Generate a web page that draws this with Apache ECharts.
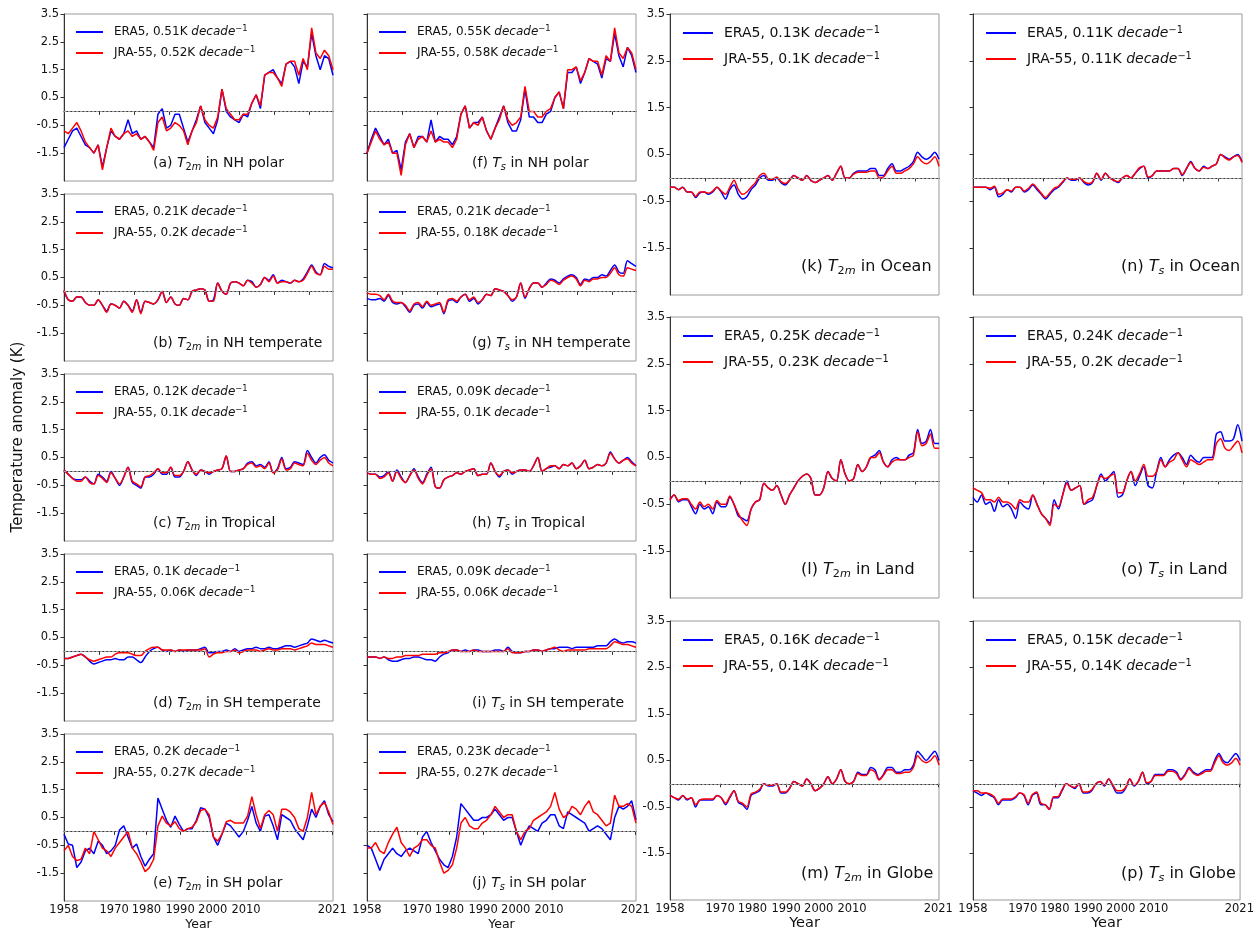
<!DOCTYPE html>
<html><head><meta charset="utf-8">
<script src="https://cdn.jsdelivr.net/npm/echarts@6/dist/echarts.min.js"></script>
<style>html,body{margin:0;padding:0;background:#fff}#c{width:1257px;height:932px}</style>
</head><body><div id="c"></div>
<script>
// ---------------- DATA ----------------
const years = [1958,1959,1960,1961,1962,1963,1964,1965,1966,1967,
1968,1969,1970,1971,1972,1973,1974,1975,1976,1977,
1978,1979,1980,1981,1982,1983,1984,1985,1986,1987,
1988,1989,1990,1991,1992,1993,1994,1995,1996,1997,
1998,1999,2000,2001,2002,2003,2004,2005,2006,2007,
2008,2009,2010,2011,2012,2013,2014,2015,2016,2017,
2018,2019,2020,2021];

const panelIds = ['a','b','c','d','e','f','g','h','i','j','k','l','m','n','o','p'];
const regions = ['NH polar','NH temperate','Tropical','SH temperate','SH polar','NH polar','NH temperate','Tropical','SH temperate','SH polar','Ocean','Land','Globe','Ocean','Land','Globe'];
const variables = ['2m','2m','2m','2m','2m','s','s','s','s','s','2m','2m','2m','s','s','s'];
const eraRates = ['0.51','0.21','0.12','0.1','0.2','0.55','0.21','0.09','0.09','0.23','0.13','0.25','0.16','0.11','0.24','0.15'];
const jraRates = ['0.52','0.2','0.1','0.06','0.27','0.58','0.18','0.1','0.06','0.27','0.1','0.23','0.14','0.11','0.2','0.14'];

const upperTickMonths = [0,100,200,300,400,500,600,700];
const bottomTickMonths = [0,143,235,331,424,519,765];
const bottomTickLabels = ['1958','1970','1980','1990','2000','2010','2021'];
const yTicks = [-1.5,-0.5,0.5,1.5,2.5,3.5];

const a_era = [-1.3,-1.0,-0.7,-0.6,-0.9,-1.2,-1.3,-1.5,-1.2,-2.0,
-1.3,-0.7,-0.9,-1.0,-0.8,-0.3,-0.8,-0.7,-1.0,-0.9,
-1.1,-1.3,-0.1,0.1,-0.6,-0.5,-0.1,-0.1,-0.6,-1.1,
-0.7,-0.3,0.2,-0.4,-0.6,-0.8,-0.3,0.8,0.0,-0.2,
-0.3,-0.4,-0.1,-0.2,0.3,0.6,0.1,1.3,1.4,1.5,
1.2,1.0,1.7,1.8,1.6,1.0,1.8,1.6,2.8,2.0,
1.5,2.0,1.9,1.3];
const a_jra = [-0.7,-0.8,-0.6,-0.4,-0.7,-1.1,-1.3,-1.5,-1.2,-2.1,
-1.3,-0.6,-0.9,-1.0,-0.8,-0.7,-0.9,-0.8,-1.0,-0.9,
-1.1,-1.4,-0.4,-0.2,-0.7,-0.6,-0.4,-0.5,-0.7,-1.2,
-0.7,-0.4,0.2,-0.3,-0.5,-0.6,-0.2,0.8,0.1,-0.1,
-0.3,-0.3,-0.1,-0.1,0.3,0.6,0.2,1.3,1.4,1.4,
1.2,0.9,1.7,1.8,1.8,1.3,1.9,1.5,3.0,2.1,
1.9,2.2,2.0,1.5];

const b_era = [0.0,-0.3,-0.35,-0.2,-0.2,-0.4,-0.5,-0.5,-0.3,-0.5,
-0.7,-0.45,-0.5,-0.6,-0.35,-0.5,-0.7,-0.3,-0.75,-0.35,
-0.4,-0.45,-0.3,0.0,-0.4,-0.2,-0.45,-0.5,-0.25,-0.3,
0.0,0.05,0.1,0.05,-0.35,-0.3,0.3,0.0,-0.1,0.3,
0.35,0.3,0.2,0.4,0.35,0.15,0.25,0.5,0.4,0.6,
0.3,0.4,0.35,0.3,0.4,0.35,0.45,0.7,0.95,0.7,
0.6,1.0,0.9,0.85];
const b_jra = [0.05,-0.3,-0.35,-0.2,-0.2,-0.4,-0.5,-0.5,-0.3,-0.5,
-0.75,-0.45,-0.5,-0.6,-0.35,-0.5,-0.75,-0.3,-0.8,-0.35,
-0.4,-0.45,-0.3,0.0,-0.4,-0.2,-0.45,-0.5,-0.25,-0.3,
0.0,0.05,0.1,0.05,-0.35,-0.35,0.3,0.0,-0.1,0.3,
0.35,0.3,0.2,0.4,0.3,0.15,0.25,0.5,0.35,0.55,
0.3,0.35,0.35,0.3,0.4,0.35,0.4,0.65,0.9,0.65,
0.6,0.9,0.8,0.8];

const c_era = [0.05,-0.1,-0.25,-0.3,-0.3,-0.2,-0.35,-0.45,-0.1,-0.2,
-0.35,0.0,-0.25,-0.5,-0.2,0.15,-0.4,-0.5,-0.6,-0.2,
-0.2,-0.1,0.1,-0.1,-0.1,0.15,-0.2,-0.2,0.0,0.35,
0.05,-0.15,0.05,0.0,-0.1,0.0,0.05,0.1,0.55,0.0,
0.0,0.05,0.1,0.3,0.35,0.2,0.25,0.15,0.35,-0.05,
0.1,0.5,0.1,0.15,0.35,0.3,0.25,0.75,0.5,0.3,
0.5,0.6,0.4,0.3];
const c_jra = [0.05,-0.1,-0.25,-0.35,-0.35,-0.2,-0.4,-0.45,-0.15,-0.25,
-0.4,-0.05,-0.25,-0.45,-0.2,0.15,-0.35,-0.45,-0.55,-0.2,
-0.15,-0.05,0.1,-0.05,-0.05,0.15,-0.15,-0.15,0.0,0.35,
0.05,-0.1,0.05,0.0,-0.05,0.0,0.05,0.1,0.55,0.0,
0.0,0.05,0.1,0.25,0.3,0.15,0.2,0.1,0.3,-0.05,
0.05,0.45,0.05,0.1,0.3,0.25,0.2,0.65,0.4,0.25,
0.4,0.5,0.3,0.2];

const d_era = [-0.25,-0.25,-0.2,-0.15,-0.1,-0.2,-0.35,-0.45,-0.4,-0.35,
-0.3,-0.3,-0.25,-0.3,-0.3,-0.2,-0.2,-0.3,-0.4,-0.2,
0.0,0.1,0.15,0.05,0.0,0.05,0.0,0.05,0.0,0.05,
0.05,0.05,0.1,0.15,-0.05,-0.05,0.0,0.0,0.05,0.0,
0.1,0.0,0.05,0.1,0.1,0.15,0.1,0.1,0.15,0.1,
0.1,0.15,0.2,0.2,0.15,0.2,0.25,0.3,0.45,0.4,
0.35,0.4,0.35,0.3];
const d_jra = [-0.25,-0.25,-0.2,-0.15,-0.1,-0.2,-0.3,-0.35,-0.3,-0.25,
-0.2,-0.2,-0.1,-0.05,-0.05,-0.05,-0.1,-0.15,-0.15,0.0,
0.1,0.15,0.15,0.05,0.05,0.05,0.0,0.05,0.05,0.05,
0.05,0.05,0.05,0.1,-0.2,-0.1,-0.05,-0.05,0.0,0.0,
0.05,-0.05,0.0,0.05,0.05,0.05,0.0,0.05,0.1,0.05,
0.05,0.1,0.1,0.1,0.05,0.1,0.15,0.2,0.3,0.25,
0.25,0.25,0.2,0.15];

const e_era = [-0.1,-0.45,-0.5,-1.3,-1.1,-0.7,-0.6,-0.8,-0.35,-0.5,
-0.8,-0.7,-0.5,0.05,0.2,-0.2,-0.6,-0.45,-0.9,-1.25,
-1.0,-0.8,1.2,0.8,0.4,0.15,0.55,0.25,0.0,0.1,
0.1,0.4,0.85,0.8,0.5,-0.2,-0.5,-0.1,0.3,0.2,
0.0,-0.2,0.0,0.4,0.9,0.3,0.0,0.55,0.6,0.2,
-0.3,0.6,0.5,0.4,0.1,-0.1,-0.3,0.2,0.8,0.5,
0.9,1.1,0.6,0.35];
const e_jra = [-0.7,-0.5,-0.9,-1.05,-1.0,-0.6,-0.8,0.0,-0.3,-0.6,
-0.7,-0.9,-0.6,-0.4,-0.2,0.0,-0.6,-0.8,-1.1,-1.45,
-1.3,-1.0,0.2,0.55,0.3,0.2,0.35,0.1,0.0,0.1,
0.15,0.35,0.75,0.8,0.6,-0.2,-0.35,-0.1,0.35,0.4,
0.3,0.3,0.3,0.55,1.25,0.6,0.1,0.6,0.75,0.6,
0.0,0.8,0.8,0.7,0.5,0.1,0.0,0.5,1.4,0.6,
0.9,1.05,0.7,0.25];

const f_era = [-1.5,-1.0,-0.6,-0.9,-1.2,-1.0,-1.5,-1.4,-2.1,-1.1,
-0.8,-1.3,-0.9,-0.9,-1.1,-0.3,-1.1,-0.9,-1.0,-1.0,
-1.2,-0.9,-0.1,0.2,-0.6,-0.4,-0.4,-0.2,-0.7,-1.0,
-0.6,-0.2,0.2,-0.4,-0.7,-0.7,-0.3,0.8,-0.2,-0.2,
-0.4,-0.4,-0.1,0.0,0.5,0.7,0.1,1.4,1.4,1.6,
1.0,1.4,1.9,1.8,1.7,1.2,1.9,1.8,2.8,2.0,
1.6,2.3,2.0,1.4];
const f_jra = [-1.5,-1.1,-0.7,-1.0,-1.2,-1.1,-1.5,-1.5,-2.3,-1.2,
-0.8,-1.3,-1.0,-0.9,-1.1,-0.7,-1.1,-1.0,-1.1,-1.1,
-1.3,-1.0,-0.1,0.2,-0.6,-0.4,-0.5,-0.2,-0.7,-1.0,
-0.6,-0.3,0.2,-0.3,-0.5,-0.4,-0.2,0.9,0.0,0.0,
-0.2,-0.2,0.0,0.1,0.5,0.7,0.1,1.5,1.5,1.6,
1.1,1.4,1.9,1.8,1.8,1.3,2.0,1.8,3.0,2.1,
1.9,2.3,2.1,1.5];

const g_era = [-0.25,-0.3,-0.3,-0.25,-0.35,-0.15,-0.4,-0.45,-0.4,-0.55,
-0.75,-0.5,-0.45,-0.6,-0.4,-0.55,-0.5,-0.45,-0.8,-0.35,
-0.3,-0.4,-0.2,-0.1,-0.35,-0.25,-0.45,-0.3,-0.1,-0.15,
0.1,0.05,0.0,-0.15,-0.35,-0.2,0.3,-0.25,0.1,0.3,
0.3,0.15,0.3,0.45,0.4,0.3,0.45,0.55,0.6,0.5,
0.25,0.45,0.4,0.5,0.5,0.6,0.55,0.75,0.95,0.7,
0.65,1.1,1.0,0.9];
const g_jra = [-0.05,-0.1,-0.1,-0.15,-0.3,-0.1,-0.35,-0.4,-0.4,-0.5,
-0.7,-0.45,-0.4,-0.55,-0.35,-0.5,-0.45,-0.4,-0.75,-0.3,
-0.25,-0.35,-0.2,-0.1,-0.3,-0.2,-0.4,-0.3,-0.1,-0.15,
0.1,0.05,0.0,-0.15,-0.3,-0.2,0.3,-0.2,0.1,0.3,
0.3,0.15,0.25,0.4,0.35,0.25,0.4,0.5,0.55,0.45,
0.2,0.4,0.35,0.45,0.45,0.5,0.5,0.65,0.85,0.6,
0.55,0.85,0.8,0.75];

const h_era = [-0.05,-0.1,-0.1,-0.2,-0.15,0.0,-0.35,0.05,-0.2,-0.4,
-0.15,0.1,-0.2,-0.4,-0.1,0.15,-0.55,-0.6,-0.3,-0.2,
-0.15,-0.05,-0.1,0.0,0.05,0.1,-0.15,-0.1,-0.1,0.3,
0.0,-0.2,0.0,0.05,-0.1,0.0,0.05,0.05,0.0,0.2,
0.5,0.0,0.1,0.15,0.2,0.1,0.25,0.2,0.3,0.1,
0.2,0.4,0.1,0.15,0.25,0.2,0.3,0.7,0.45,0.3,
0.4,0.5,0.35,0.2];
const h_jra = [-0.05,-0.1,-0.1,-0.25,-0.2,-0.05,-0.35,0.0,-0.25,-0.4,
-0.15,0.05,-0.25,-0.45,-0.15,0.1,-0.55,-0.6,-0.3,-0.2,
-0.15,-0.05,-0.1,0.0,0.05,0.1,-0.15,-0.1,-0.1,0.3,
0.0,-0.15,0.0,0.05,-0.05,0.0,0.05,0.05,0.0,0.2,
0.5,0.0,0.1,0.2,0.2,0.1,0.25,0.2,0.3,0.1,
0.2,0.4,0.1,0.15,0.25,0.2,0.3,0.65,0.45,0.3,
0.4,0.45,0.3,0.2];

const i_era = [-0.2,-0.2,-0.2,-0.25,-0.2,-0.3,-0.35,-0.35,-0.3,-0.25,
-0.25,-0.2,-0.2,-0.25,-0.3,-0.3,-0.35,-0.2,-0.1,-0.05,
0.05,0.05,0.0,0.05,0.0,0.05,0.05,0.0,0.0,0.0,
0.05,0.05,0.0,0.15,0.0,-0.05,-0.05,0.0,0.0,0.05,
0.05,0.0,0.05,0.1,0.1,0.15,0.15,0.15,0.1,0.15,
0.15,0.15,0.15,0.15,0.2,0.2,0.2,0.35,0.45,0.35,
0.3,0.35,0.35,0.3];
const i_jra = [-0.2,-0.2,-0.2,-0.25,-0.2,-0.25,-0.25,-0.2,-0.2,-0.15,
-0.15,-0.15,-0.15,-0.1,-0.1,-0.1,-0.1,-0.05,-0.05,0.0,
0.05,0.05,0.0,0.0,0.0,0.05,0.0,0.0,0.0,0.0,
0.0,0.0,0.0,0.1,-0.05,-0.05,-0.05,0.0,0.0,0.05,
0.05,0.0,0.05,0.1,0.15,0.05,0.0,0.05,0.05,0.05,
0.05,0.05,0.1,0.1,0.1,0.1,0.1,0.2,0.35,0.3,
0.25,0.25,0.2,0.15];

const j_era = [-0.5,-0.6,-1.0,-1.4,-1.0,-0.8,-0.6,-0.8,-0.9,-0.7,
-0.6,-0.7,-0.8,-0.2,0.0,-0.4,-0.7,-1.0,-1.2,-1.3,
-0.9,-0.2,1.0,0.8,0.6,0.4,0.4,0.5,0.5,0.6,
0.8,0.6,0.4,0.5,0.5,0.0,-0.5,-0.1,0.2,0.1,
0.0,0.3,0.4,0.6,0.6,0.2,0.1,0.7,0.6,0.5,
0.4,0.3,0.0,0.1,0.2,0.1,-0.1,-0.3,0.5,0.9,
0.8,0.9,1.1,0.4];
const j_jra = [-0.6,-0.6,-0.4,-0.7,-0.8,-0.4,-0.1,0.15,-0.4,-0.6,
-0.9,-0.6,-0.5,-0.3,-0.3,-0.5,-0.6,-1.1,-1.5,-1.4,
-1.2,-0.6,0.3,0.5,0.2,0.1,0.1,0.3,0.4,0.6,
0.9,0.7,0.5,0.6,0.6,0.0,-0.3,0.0,0.1,0.4,
0.5,0.6,0.7,0.9,1.4,0.8,0.5,0.6,0.9,0.8,
0.6,0.9,1.1,0.7,0.6,0.4,0.2,0.3,1.3,0.9,
0.9,1.0,0.9,0.3];

const k_era = [-0.2,-0.2,-0.25,-0.2,-0.3,-0.3,-0.42,-0.32,-0.3,-0.35,
-0.3,-0.2,-0.3,-0.45,-0.25,-0.15,-0.35,-0.45,-0.4,-0.25,
-0.15,0.0,0.05,-0.05,-0.05,0.0,-0.1,-0.15,-0.05,0.05,
0.0,-0.05,0.05,-0.05,-0.1,-0.05,0.0,0.05,-0.05,0.1,
0.25,0.0,0.0,0.1,0.15,0.15,0.15,0.2,0.2,0.05,
0.05,0.2,0.3,0.15,0.15,0.2,0.25,0.35,0.55,0.45,
0.4,0.45,0.55,0.4];
const k_jra = [-0.2,-0.2,-0.25,-0.2,-0.3,-0.3,-0.4,-0.3,-0.3,-0.33,
-0.28,-0.2,-0.28,-0.35,-0.2,-0.05,-0.25,-0.35,-0.3,-0.2,
-0.1,0.05,0.1,-0.02,-0.03,0.02,-0.08,-0.12,-0.05,0.05,
0.0,-0.05,0.05,-0.05,-0.1,-0.05,0.0,0.05,-0.05,0.1,
0.25,0.0,0.0,0.08,0.12,0.12,0.12,0.15,0.15,0.0,
0.02,0.15,0.25,0.1,0.1,0.15,0.2,0.3,0.45,0.35,
0.3,0.35,0.45,0.25];

const l_era = [-0.4,-0.3,-0.45,-0.4,-0.4,-0.55,-0.7,-0.5,-0.6,-0.55,
-0.7,-0.45,-0.55,-0.55,-0.35,-0.5,-0.75,-0.8,-0.85,-0.6,
-0.45,-0.4,-0.05,-0.15,-0.2,-0.1,-0.3,-0.5,-0.3,-0.15,
0.0,0.1,0.15,0.05,-0.3,-0.3,-0.15,0.2,0.05,0.0,
0.45,0.15,0.0,0.05,0.35,0.2,0.3,0.5,0.55,0.65,
0.4,0.3,0.45,0.5,0.45,0.45,0.55,0.6,1.1,0.8,
0.85,1.1,0.8,0.8];
const l_jra = [-0.4,-0.3,-0.42,-0.38,-0.38,-0.5,-0.6,-0.45,-0.55,-0.5,
-0.6,-0.42,-0.5,-0.5,-0.32,-0.5,-0.7,-0.85,-0.95,-0.6,
-0.45,-0.4,-0.05,-0.15,-0.2,-0.1,-0.3,-0.5,-0.3,-0.15,
0.0,0.1,0.15,0.05,-0.3,-0.3,-0.15,0.2,0.05,0.0,
0.45,0.15,0.0,0.05,0.35,0.2,0.3,0.5,0.5,0.6,
0.4,0.3,0.4,0.45,0.45,0.45,0.5,0.55,1.05,0.75,
0.8,1.0,0.7,0.7];

const m_era = [-0.25,-0.3,-0.35,-0.25,-0.35,-0.3,-0.5,-0.35,-0.35,-0.35,
-0.35,-0.25,-0.3,-0.45,-0.3,-0.15,-0.4,-0.45,-0.55,-0.25,
-0.2,-0.15,0.0,-0.05,-0.05,0.0,-0.2,-0.2,-0.1,0.05,
0.0,-0.05,0.1,0.0,-0.15,-0.1,0.0,0.15,0.0,0.1,
0.3,0.05,0.0,0.05,0.25,0.2,0.2,0.35,0.3,0.1,
0.2,0.35,0.35,0.25,0.25,0.3,0.3,0.4,0.7,0.6,
0.5,0.6,0.7,0.5];
const m_jra = [-0.25,-0.3,-0.33,-0.25,-0.33,-0.3,-0.45,-0.35,-0.33,-0.33,
-0.33,-0.25,-0.3,-0.42,-0.28,-0.15,-0.38,-0.42,-0.5,-0.22,
-0.18,-0.12,0.0,-0.03,-0.03,0.0,-0.18,-0.18,-0.1,0.05,
0.0,-0.05,0.1,0.0,-0.15,-0.1,0.0,0.15,0.0,0.1,
0.3,0.05,0.0,0.05,0.22,0.18,0.18,0.3,0.25,0.08,
0.18,0.3,0.3,0.22,0.22,0.25,0.25,0.35,0.6,0.5,
0.45,0.5,0.6,0.4];

const n_era = [-0.2,-0.2,-0.2,-0.2,-0.25,-0.2,-0.4,-0.35,-0.25,-0.3,
-0.2,-0.2,-0.3,-0.25,-0.15,-0.25,-0.35,-0.45,-0.35,-0.25,
-0.2,-0.1,0.0,-0.05,-0.05,0.0,-0.1,-0.15,-0.1,0.1,
-0.05,0.1,0.0,-0.05,-0.1,0.0,0.05,0.0,0.1,0.2,
0.25,0.0,0.05,0.15,0.15,0.15,0.15,0.2,0.2,0.05,
0.2,0.35,0.2,0.15,0.25,0.2,0.25,0.3,0.5,0.45,
0.4,0.45,0.5,0.35];
const n_jra = [-0.2,-0.2,-0.2,-0.2,-0.22,-0.18,-0.35,-0.32,-0.25,-0.28,
-0.2,-0.2,-0.28,-0.22,-0.13,-0.22,-0.33,-0.42,-0.32,-0.22,
-0.18,-0.08,0.0,-0.03,-0.03,0.0,-0.08,-0.12,-0.08,0.1,
-0.03,0.1,0.0,-0.05,-0.08,0.0,0.05,0.0,0.1,0.22,
0.25,0.02,0.05,0.15,0.15,0.15,0.15,0.2,0.2,0.07,
0.2,0.33,0.2,0.15,0.23,0.2,0.25,0.3,0.5,0.43,
0.38,0.45,0.48,0.33];

const o_era = [-0.35,-0.45,-0.3,-0.5,-0.45,-0.65,-0.4,-0.55,-0.5,-0.6,
-0.8,-0.45,-0.55,-0.6,-0.3,-0.5,-0.7,-0.8,-0.9,-0.4,
-0.6,-0.3,0.0,-0.2,-0.15,-0.1,-0.5,-0.45,-0.4,-0.1,
0.15,0.0,0.1,0.2,-0.35,-0.3,0.0,0.2,-0.1,0.1,
0.3,-0.1,-0.15,0.2,0.5,0.3,0.45,0.55,0.6,0.5,
0.35,0.55,0.45,0.4,0.5,0.5,0.5,1.0,1.05,0.85,
0.85,0.9,1.2,0.85];
const o_jra = [-0.15,-0.2,-0.25,-0.4,-0.4,-0.45,-0.35,-0.45,-0.45,-0.5,
-0.6,-0.4,-0.45,-0.45,-0.3,-0.5,-0.7,-0.8,-0.95,-0.5,
-0.55,-0.3,-0.05,-0.2,-0.15,-0.1,-0.5,-0.4,-0.35,-0.1,
0.1,0.05,0.1,0.15,-0.25,-0.25,0.0,0.2,0.0,0.15,
0.35,0.1,0.1,0.2,0.45,0.3,0.4,0.45,0.6,0.45,
0.3,0.45,0.4,0.35,0.4,0.45,0.45,0.8,0.9,0.7,
0.65,0.75,0.85,0.6];

const p_era = [-0.15,-0.2,-0.25,-0.2,-0.25,-0.3,-0.45,-0.35,-0.35,-0.35,
-0.3,-0.2,-0.25,-0.45,-0.25,-0.2,-0.45,-0.45,-0.55,-0.3,
-0.3,-0.15,0.0,-0.05,-0.1,0.0,-0.2,-0.2,-0.15,0.0,
0.05,-0.05,0.1,-0.05,-0.2,-0.2,-0.1,0.1,-0.05,0.05,
0.25,0.0,0.05,0.2,0.2,0.2,0.3,0.3,0.25,0.1,
0.2,0.35,0.25,0.2,0.25,0.3,0.3,0.5,0.65,0.5,
0.45,0.55,0.65,0.5];
const p_jra = [-0.15,-0.15,-0.2,-0.2,-0.22,-0.28,-0.42,-0.33,-0.33,-0.33,
-0.28,-0.2,-0.23,-0.42,-0.23,-0.18,-0.42,-0.45,-0.55,-0.28,
-0.28,-0.13,0.0,-0.05,-0.08,0.0,-0.18,-0.18,-0.13,0.0,
0.05,-0.03,0.1,-0.03,-0.15,-0.15,-0.08,0.1,-0.03,0.05,
0.25,0.02,0.05,0.18,0.18,0.18,0.27,0.27,0.22,0.08,
0.18,0.32,0.22,0.18,0.22,0.27,0.27,0.45,0.6,0.45,
0.4,0.45,0.55,0.4];

const eraSeries = [a_era,b_era,c_era,d_era,e_era,f_era,g_era,h_era,i_era,j_era,k_era,l_era,m_era,n_era,o_era,p_era];
const jraSeries = [a_jra,b_jra,c_jra,d_jra,e_jra,f_jra,g_jra,h_jra,i_jra,j_jra,k_jra,l_jra,m_jra,n_jra,o_jra,p_jra];

// ---------------- LAYOUT ----------------
const FONT = 'DejaVu Sans';
const colLeft = [64, 367, 670, 973];
const panelW = 269;
const leftTops = [14, 194, 374, 554, 734], leftH = 167;
const rightTops = [14, 317, 621], rightH = 281;
const titleOffsetX = [89, 105, 131, 148];
const polarPanels = ['a', 'e', 'f', 'j'];
const lastMonth = 767;
const xPos = years.map(y => (y - years[0]) * lastMonth / (years[years.length - 1] - years[0]));

function layoutOf(k) {
  if (k < 10) { const col = Math.floor(k / 5), row = k % 5;
    return {col, row, left: colLeft[col], top: leftTops[row], height: leftH, small: true, bottom: row === 4}; }
  const kk = k - 10; const col = 2 + Math.floor(kk / 3), row = kk % 3;
  return {col, row, left: colLeft[col], top: rightTops[row], height: rightH, small: false, bottom: row === 2};
}

const grids = [], xAxes = [], yAxes = [], series = [], legends = [], titles = [];
panelIds.forEach((id, k) => {
  const L = layoutOf(k);
  grids.push({left: L.left, top: L.top, width: panelW, height: L.height, show: true,
    borderColor: '#9a9a9a', borderWidth: 1, containLabel: false});
  const tickCol = '#333';
  xAxes.push({type: 'value', gridIndex: k, min: 0, max: lastMonth,
    splitLine: {show: false},
    axisLine: {show: true, lineStyle: {color: tickCol, width: 1}},
    axisTick: {show: true, length: 3.5, lineStyle: {color: tickCol},
      customValues: L.bottom ? bottomTickMonths : upperTickMonths},
    axisLabel: L.bottom ? {show: true, customValues: bottomTickMonths, margin: 3,
      fontSize: 11.5, color: '#111', fontFamily: FONT,
      formatter: v => { const ix = bottomTickMonths.indexOf(v); return ix >= 0 ? bottomTickLabels[ix] : ''; }}
      : {show: false},
    name: L.bottom ? 'Year' : '', nameLocation: 'middle', nameGap: L.small ? 17 : 16,
    nameTextStyle: {fontSize: L.small ? 12.5 : 14.5, color: '#111', fontFamily: FONT}
  });
  const showY = (L.col === 0 || L.col === 2);
  yAxes.push({type: 'value', gridIndex: k, min: -2.5, max: 3.5,
    splitLine: {show: false},
    axisLine: {show: true, lineStyle: {color: tickCol, width: 1}},
    axisTick: {show: true, length: 3.5, lineStyle: {color: tickCol}, customValues: yTicks},
    axisLabel: {show: showY, customValues: yTicks, margin: 5, fontSize: 11.5, color: '#111', fontFamily: FONT,
      formatter: v => v.toFixed(1)}
  });
  const smooth = polarPanels.indexOf(id) >= 0 ? false : 0.3;
  const eraName = id + '|ERA5, ' + eraRates[k] + 'K';
  const jraName = id + '|JRA-55, ' + jraRates[k] + 'K';
  series.push({name: eraName, type: 'line', xAxisIndex: k, yAxisIndex: k, smooth: smooth,
    data: eraSeries[k].map((v, i) => [xPos[i], v]), symbol: 'none', showSymbol: false,
    lineStyle: {width: 1.5, color: '#0000ff'}, itemStyle: {color: '#0000ff'}, z: 2,
    markLine: {silent: true, symbol: ['none', 'none'], label: {show: false},
      lineStyle: {color: '#a0a0a0', type: [2.5, 1.5], width: 1}, data: [{yAxis: 0}], animation: false}
  });
  series.push({name: jraName, type: 'line', xAxisIndex: k, yAxisIndex: k, smooth: smooth,
    data: jraSeries[k].map((v, i) => [xPos[i], v]), symbol: 'none', showSymbol: false,
    lineStyle: {width: 1.5, color: '#ff0000'}, itemStyle: {color: '#ff0000'}, z: 3});

  const fs = L.small ? 12 : 14, lh = L.small ? 14 : 16;
  legends.push({left: L.left + (L.small ? 12 : 13), top: L.top + 11, orient: 'vertical',
    icon: 'rect', itemWidth: L.small ? 27 : 30, itemHeight: 2, itemGap: L.small ? 8 : 11,
    selectedMode: false, data: [eraName, jraName], padding: 0,
    formatter: name => '{n|' + name.split('|')[1] + ' }{i|decade}{s|\u22121}',
    textStyle: {fontFamily: FONT, color: '#111', rich: {
      n: {fontSize: fs, lineHeight: lh, fontFamily: FONT, color: '#111', padding: [0, 0, 0, 6]},
      i: {fontSize: fs, lineHeight: lh, fontFamily: FONT, fontStyle: 'italic', color: '#111'},
      s: {fontSize: fs * 0.7, lineHeight: lh * 0.55, fontFamily: FONT, color: '#111', verticalAlign: 'top'}
    }}
  });

  const tfs = L.small ? 14 : 16, tlh = L.small ? 18 : 20, sfs = tfs * 0.7;
  const v = variables[k];
  const sub = v === '2m' ? '{sb|2}{si|m}' : '{si|s}';
  titles.push({left: L.left + titleOffsetX[L.col], top: L.top + (L.small ? 140 : 243), padding: 0,
    text: '{n|(' + id + ') }{i|T}' + sub + '{n| in ' + regions[k] + '}',
    textStyle: {fontFamily: FONT, fontWeight: 'normal', rich: {
      n: {fontSize: tfs, lineHeight: tlh, fontFamily: FONT, fontWeight: 'normal', color: '#111'},
      i: {fontSize: tfs, lineHeight: tlh, fontFamily: FONT, fontWeight: 'normal', fontStyle: 'italic', color: '#111'},
      sb: {fontSize: sfs, lineHeight: tlh * 0.45, fontFamily: FONT, fontWeight: 'normal', color: '#111', verticalAlign: 'bottom'},
      si: {fontSize: sfs, lineHeight: tlh * 0.45, fontFamily: FONT, fontWeight: 'normal', fontStyle: 'italic', color: '#111', verticalAlign: 'bottom'}
    }}
  });
});

const chart = echarts.init(document.getElementById('c'), null, {renderer: 'canvas'});
chart.setOption({
  animation: false,
  backgroundColor: '#fff',
  textStyle: {fontFamily: FONT},
  grid: grids, xAxis: xAxes, yAxis: yAxes, series: series, legend: legends, title: titles,
  graphic: [{type: 'text', x: 18, y: 437, rotation: Math.PI / 2,
    style: {text: 'Temperature anomaly (K)', font: '15px "DejaVu Sans"', fill: '#111',
      textAlign: 'center', textVerticalAlign: 'middle'}}]
});
</script></body></html>
